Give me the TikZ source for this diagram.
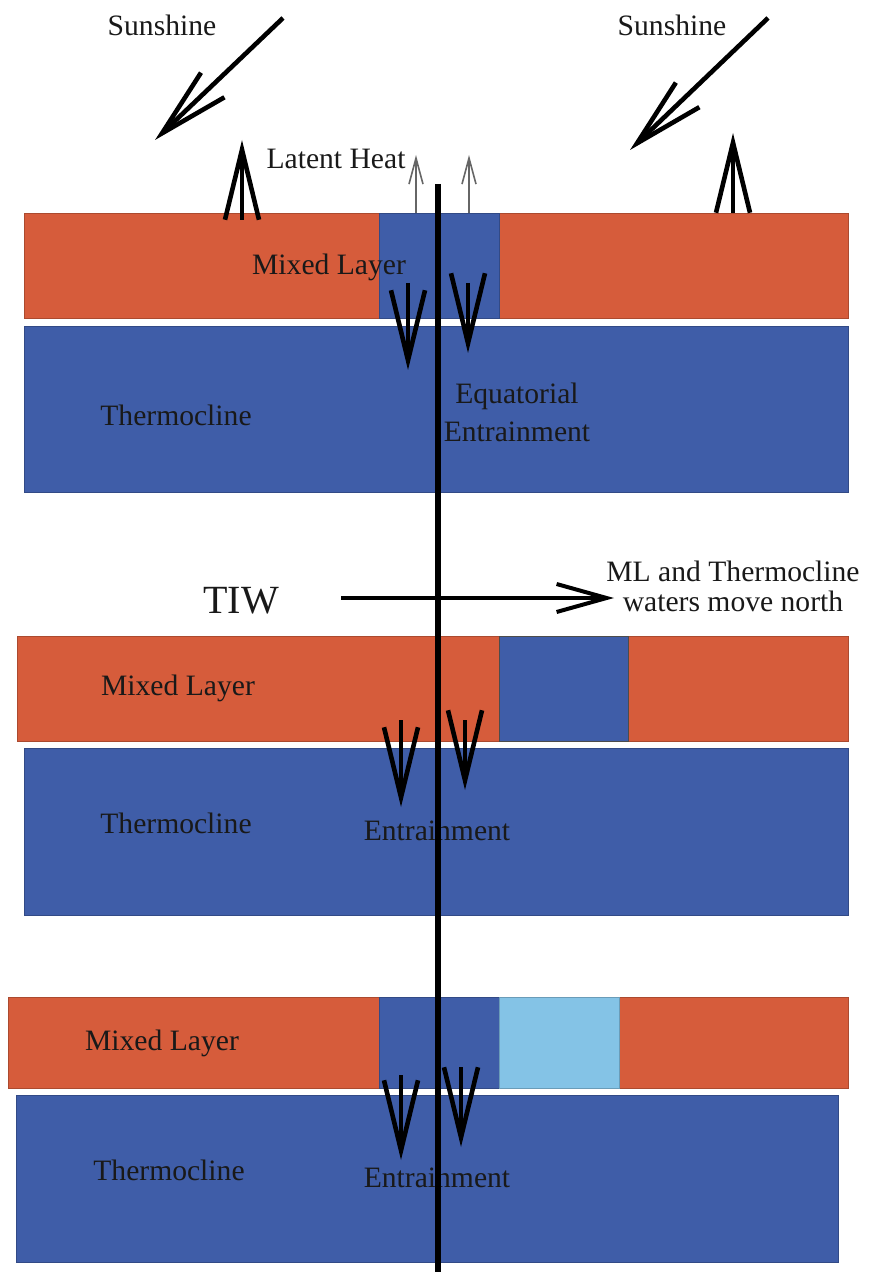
\documentclass[tikz,border=0pt]{standalone}
\usepackage{fontspec}
\setmainfont{Liberation Serif}
\usetikzlibrary{arrows.meta}
\definecolor{mixed}{HTML}{D65C3B}
\definecolor{thermo}{HTML}{3F5DA8}
\definecolor{cold}{HTML}{84C3E6}
\tikzset{
  layer/.style={fill=#1, draw=#1!80!black, line width=0.3pt},
  lbl/.style={font=\fontsize{14.8}{19}\selectfont, text=black!90, inner sep=0pt, align=center},
  flux/.style={-{Straight Barb[length=35pt, width=17pt]}, line width=2.3pt},
  lat/.style={-{Straight Barb[length=13pt, width=7pt]}, line width=0.8pt, draw=black!60},
}

\begin{document}
\begin{tikzpicture}[x=0.5pt, y=-0.5pt]
  \useasboundingbox (0,0) rectangle (871,1272);
  % panel 1
  \path[layer=mixed] (24,213) rectangle (848,318);
  \path[layer=thermo] (379,213) rectangle (499,318);
  \path[layer=thermo] (24,326) rectangle (848,492);
  % panel 2
  \path[layer=mixed] (17,636) rectangle (848,741);
  \path[layer=thermo, draw=black!70] (499,636) rectangle (628,741);
  \path[layer=thermo] (24,748) rectangle (848,915);
  % panel 3
  \path[layer=mixed] (8,997) rectangle (848,1088);
  \path[layer=thermo] (379,997) rectangle (499,1088);
  \path[layer=cold] (499,997) rectangle (619,1088);
  \path[layer=thermo] (16,1095) rectangle (838,1262);

  % labels
  \node[lbl] (sunW) at (162,25) {Sunshine};
  \node[lbl] (sunE) at (672,25) {Sunshine};
  \node[lbl] (latent) at (336,159) {Latent Heat};
  \node[lbl] (mlA) at (329,267) {Mixed Layer};
  \node[lbl] (thA) at (176,415) {Thermocline};
  \node[lbl] (entA) at (517,412) {Equatorial\\Entrainment};
  \node[lbl, font=\fontsize{20}{24}\selectfont] (tiw) at (241,601) {TIW};
  \node[lbl, font=\fontsize{14.8}{15}\selectfont] (north) at (733,586) {ML and Thermocline\\waters move north};
  \node[lbl] (mlB) at (178,688) {Mixed Layer};
  \node[lbl] (thB) at (176,823) {Thermocline};
  \node[lbl] (entB) at (437,831) {Entrainment};
  \node[lbl] (mlC) at (162,1043) {Mixed Layer};
  \node[lbl] (thC) at (169,1170) {Thermocline};
  \node[lbl] (entC) at (437,1178) {Entrainment};

  % fluxes
  \draw[flux] (283,18) -- (155,140);
  \draw[flux] (768,18) -- (630,150);
  \draw[flux] (242,220) -- (242,140);
  \draw[flux] (733,213) -- (733,133);
  \draw[lat] (416,213) -- (416,155);
  \draw[lat] (469,213) -- (469,155);
  \draw[flux] (408,283) -- (408,370);
  \draw[flux] (468,283) -- (468,353);
  \draw[flux, line width=2pt, -{Straight Barb[length=25pt, width=14pt]}] (341,598) -- (614,598);
  \draw[flux] (401,720) -- (401,807);
  \draw[flux] (465,720) -- (465,790);
  \draw[flux] (401,1075) -- (401,1160);
  \draw[flux] (461,1067) -- (461,1147);

  % equator
  \draw[line width=2.8pt] (438,184) -- (438,1272);
\end{tikzpicture}
\end{document}
